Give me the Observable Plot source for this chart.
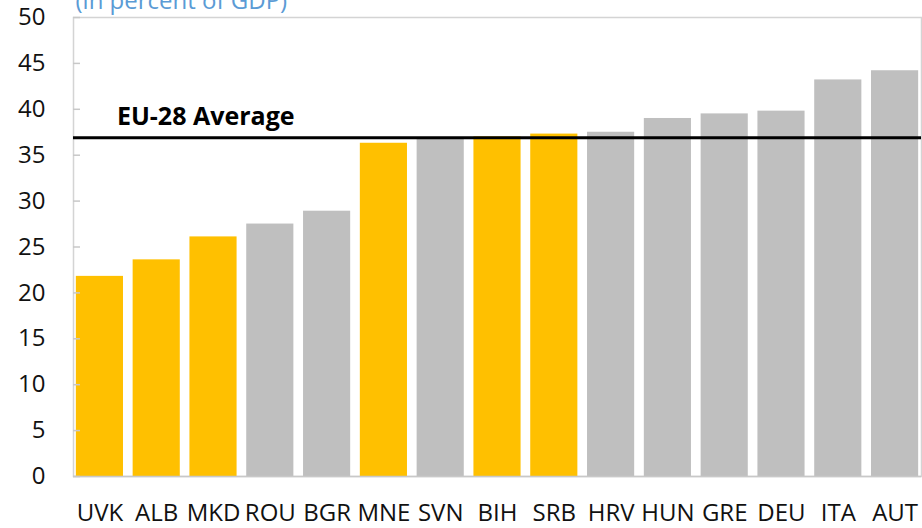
<!DOCTYPE html>
<html><head><meta charset="utf-8">
<script src="https://cdn.jsdelivr.net/npm/d3@7"></script>
<script src="https://cdn.jsdelivr.net/npm/@observablehq/plot@0.6"></script>
<style>
body{margin:0;background:#fff;}
#chart{position:relative;width:922px;height:528px;overflow:hidden;}
svg{font-family:"Open Sans",sans-serif;}
</style></head>
<body><div id="chart"></div>
<script>
const countries = ["UVK","ALB","MKD","ROU","BGR","MNE","SVN","BIH","SRB","HRV","HUN","GRE","DEU","ITA","AUT"];
const values = [21.8,23.6,26.1,27.5,28.9,36.3,36.8,37.0,37.3,37.5,39.0,39.5,39.8,43.2,44.2];
const highlighted = ["UVK","ALB","MKD","MNE","BIH","SRB"];
const euAverage = 36.9;
const yTicks = [0,5,10,15,20,25,30,35,40,45,50];
const title = "(in percent of GDP)";
const avgLabel = "EU-28 Average";

const data = countries.map((c,i)=>({country:c, value:values[i], wb: highlighted.includes(c)}));

const chart = Plot.plot({
  width: 922, height: 528,
  marginLeft: 73, marginRight: 1, marginTop: 17, marginBottom: 52,
  style: {fontFamily: '"Open Sans", sans-serif', fontSize: "24px", color: "#111", background: "#fff"},
  x: {domain: countries, paddingInner: 0.17, paddingOuter: 0.05, align: 0.5, round: false, label: null},
  y: {domain: [0,50], label: null},
  marks: [
    Plot.frame({stroke: "#d4d4d4", strokeWidth: 1.5}),
    Plot.barY(data, {x: "country", y: "value", fill: d => d.wb ? "#ffc000" : "#bfbfbf"}),
    Plot.axisY({ticks: yTicks, tickSize: -7, tickPadding: 35, stroke: "#c8c8c8", strokeWidth: 1.5, strokeOpacity: 1, fontSize: 24, fill: "#111", label: null}),
    Plot.axisX({tickSize: 0, tickPadding: 27, fontSize: 24, fill: "#111", label: null}),
    Plot.ruleY([euAverage], {stroke: "#000", strokeWidth: 3}),
    Plot.ruleX([0], {frameAnchor: "left", stroke: "#bbb", strokeWidth: 1.5}),
    Plot.ruleY([0], {stroke: "#c8c8c8", strokeWidth: 1.5}),
    Plot.text([avgLabel], {x: () => "UVK", y: euAverage, text: d => d, dx: 17, dy: -21, textAnchor: "start", fontWeight: "bold", fontSize: 25, fill: "#000"}),
    Plot.text([title], {frameAnchor: "top-left", dx: 2, dy: -26, text: d => d, textAnchor: "start", fill: "#5b9bd5", fontSize: 24})
  ]
});
document.getElementById("chart").appendChild(chart);
</script></body></html>
